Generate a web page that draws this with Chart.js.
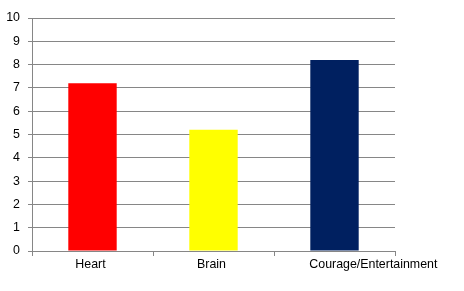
<!DOCTYPE html>
<html>
<head>
<meta charset="utf-8">
<script src="https://cdn.jsdelivr.net/npm/chart.js@4"></script>
<style>
  html, body { margin: 0; padding: 0; background: #fff; }
  #wrap { width: 464px; height: 291px; }
</style>
</head>
<body>
<div id="wrap"><canvas id="chart" width="464" height="291"></canvas></div>
<script>
const categories = ["Heart", "Brain", "Courage/Entertainment"];
const values = [7.2, 5.2, 8.2];
const barColors = ["#ff0000", "#ffff00", "#002060"];
const yTicks = [0, 1, 2, 3, 4, 5, 6, 7, 8, 9, 10];

const FONT = "'Liberation Sans', Arial, sans-serif";
const GRID = "#868686";

// x labels drawn by hand: the long last label starts at the bar's left edge like in Excel
const xLabels = {
    id: "xLabels",
    afterDraw(chart) {
        const ctx = chart.ctx;
        const x = chart.scales.x;
        const meta = chart.getDatasetMeta(0);
        const step = x.getPixelForValue(1) - x.getPixelForValue(0);
        ctx.save();
        ctx.font = "12.4px " + FONT;
        ctx.fillStyle = "#000";
        ctx.textBaseline = "middle";
        categories.forEach((label, i) => {
            const cx = x.getPixelForValue(i) - 2;
            const w = ctx.measureText(label).width;
            if (w > step) {
                const bar = meta.data[i];
                ctx.textAlign = "left";
                ctx.fillText(label, bar.x - bar.width / 2 - 1, chart.chartArea.bottom + 14);
            } else {
                ctx.textAlign = "center";
                ctx.fillText(label, cx, chart.chartArea.bottom + 14);
            }
        });
        ctx.restore();
    }
};

new Chart(document.getElementById("chart"), {
    type: "bar",
    data: {
        labels: categories,
        datasets: [{
            data: values,
            backgroundColor: barColors,
            borderWidth: 0,
            barPercentage: 0.4,
            categoryPercentage: 1
        }]
    },
    options: {
        responsive: false,
        animation: false,
        layout: { padding: { top: 18, right: 69, left: 0, bottom: 0 } },
        plugins: { legend: { display: false }, tooltip: { enabled: false } },
        scales: {
            x: {
                offset: true,
                grid: { offset: true, drawOnChartArea: false, drawTicks: true, tickLength: 5, color: GRID },
                border: { color: GRID },
                ticks: { display: false },
                afterFit(scale) { scale.height = 40; }
            },
            y: {
                min: 0,
                max: 10,
                afterBuildTicks(scale) { scale.ticks = yTicks.map(v => ({ value: v })); },
                grid: { color: GRID, tickLength: 4 },
                border: { color: GRID },
                ticks: { color: "#000", font: { family: FONT, size: 12.4 }, padding: 8 },
                afterFit(scale) { scale.width = 32; }
            }
        }
    },
    plugins: [xLabels]
});
</script>
</body>
</html>
